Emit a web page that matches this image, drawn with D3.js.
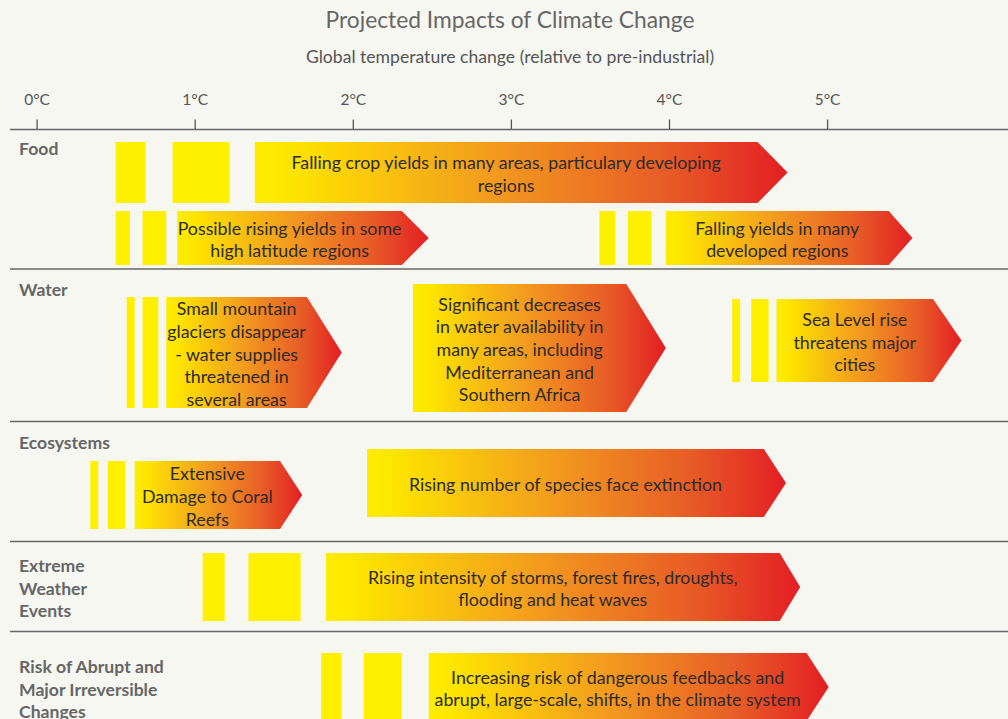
<!DOCTYPE html>
<html>
<head>
<meta charset="utf-8">
<script src="https://cdn.jsdelivr.net/npm/d3@7"></script>
<style>
  body { margin: 0; background: #f7f7f2; }
  svg { display: block; font-family: Lato, "Open Sans", sans-serif; }
</style>
</head>
<body>
<div id="chart"></div>
<script>
// ---- data (temperatures in °C above pre-industrial) ----
var categories = ["Food", "Water", "Ecosystems", "Extreme Weather Events", "Risk of Abrupt and Major Irreversible Changes"];
var categoryLines = [["Food"], ["Water"], ["Ecosystems"], ["Extreme", "Weather", "Events"], ["Risk of Abrupt and", "Major Irreversible", "Changes"]];
var tickValues = [0, 1, 2, 3, 4, 5];
var tickLabels = ["0°C", "1°C", "2°C", "3°C", "4°C", "5°C"];

// each impact lane: its category, the two yellow marker bands and the arrow
var laneCategory = [0, 0, 0, 1, 1, 1, 2, 2, 3, 4];
var laneMarkers = [
  [[0.50, 0.69], [0.86, 1.22]],
  [[0.50, 0.59], [0.67, 0.82]],
  [[3.56, 3.66], [3.74, 3.89]],
  [[0.57, 0.62], [0.67, 0.77]],
  [],
  [[4.40, 4.45], [4.52, 4.63]],
  [[0.34, 0.39], [0.45, 0.56]],
  [],
  [[1.05, 1.19], [1.34, 1.67]],
  [[1.80, 1.93], [2.07, 2.31]]
];
var arrowStart    = [1.38, 0.89, 3.98, 0.82, 2.38, 4.68, 0.62, 2.09, 1.83, 2.48];
var arrowShoulder = [4.56, 2.31, 5.39, 1.71, 3.73, 5.67, 1.54, 4.60, 4.70, 4.87];
var arrowEnd      = [4.75, 2.48, 5.54, 1.93, 3.98, 5.85, 1.68, 4.74, 4.83, 5.01];
var arrowText = [
  ["Falling crop yields in many areas, particulary developing", "regions"],
  ["Possible rising yields in some", "high latitude regions"],
  ["Falling yields in many", "developed regions"],
  ["Small mountain", "glaciers disappear", "- water supplies", "threatened in", "several areas"],
  ["Significant decreases", "in water availability in", "many areas, including", "Mediterranean and", "Southern Africa"],
  ["Sea Level rise", "threatens major", "cities"],
  ["Extensive", "Damage to Coral", "Reefs"],
  ["Rising number of species face extinction"],
  ["Rising intensity of storms, forest fires, droughts,", "flooding and heat waves"],
  ["Increasing risk of dangerous feedbacks and", "abrupt, large-scale, shifts, in the climate system"]
];

// ---- layout ----
var width = 1008, height = 719;
var laneTop    = [142, 211, 211, 297, 284, 299, 461, 449, 553, 653];
var laneBottom = [203, 265, 265, 408, 412, 382, 529, 517, 621, 721];
var labelTop   = [148, 289, 442, 565, 666];
var separators = [269, 421.5, 541.5, 631.5];
var axisY = 129.5;
var lineH = 22.6;

var x = d3.scaleLinear().domain([0, 5]).range([36.6, 827.1]);

var svg = d3.select("#chart").append("svg")
    .attr("width", width)
    .attr("height", height);

svg.append("rect").attr("width", width).attr("height", height).attr("fill", "#f7f7f2");

var grad = svg.append("defs").append("linearGradient")
    .attr("id", "heat")
    .attr("x1", "0").attr("x2", "1").attr("y1", "0").attr("y2", "0");
[[0, "#ffed00"], [0.06, "#fee600"], [0.45, "#f39a1f"], [0.78, "#e75a27"], [1, "#e31e24"]].forEach(function (s) {
  grad.append("stop").attr("offset", s[0]).attr("stop-color", s[1]);
});

// titles
svg.append("text")
    .attr("x", 510).attr("y", 28)
    .attr("text-anchor", "middle")
    .attr("font-size", 22.8)
    .attr("fill", "#666")
    .text("Projected Impacts of Climate Change");

svg.append("text")
    .attr("x", 510).attr("y", 62.5)
    .attr("text-anchor", "middle")
    .attr("font-size", 17.6)
    .attr("fill", "#555")
    .text("Global temperature change (relative to pre-industrial)");

// axis
var xAxis = d3.axisTop(x)
    .tickValues(tickValues)
    .tickFormat(function (d, i) { return tickLabels[i]; })
    .tickSizeInner(10)
    .tickSizeOuter(0)
    .tickPadding(15);

var axisEl = svg.append("g")
    .attr("transform", "translate(0," + axisY + ")")
    .call(xAxis);
axisEl.select(".domain").remove();
axisEl.selectAll(".tick line").attr("stroke", "#555").attr("stroke-width", 1.3);
axisEl.selectAll(".tick text")
    .attr("fill", "#555")
    .attr("font-size", 15.5)
    .attr("font-family", "Lato, sans-serif");

// horizontal rules
svg.selectAll("line.rule")
  .data([axisY].concat(separators))
  .enter().append("line")
    .attr("class", "rule")
    .attr("x1", 10).attr("x2", width)
    .attr("y1", function (d) { return d; })
    .attr("y2", function (d) { return d; })
    .attr("stroke", "#666")
    .attr("stroke-width", 1.5);

// category labels
categoryLines.forEach(function (lines, i) {
  var t = svg.append("text")
      .attr("class", "category")
      .attr("font-size", 17.6)
      .attr("font-weight", "bold")
      .attr("fill", "#666")
      .attr("dominant-baseline", "central");
  lines.forEach(function (ln, j) {
    t.append("tspan").attr("x", 19).attr("y", labelTop[i] + j * 22.5).text(ln);
  });
});

// yellow markers
var markerData = [];
laneMarkers.forEach(function (ms, lane) {
  ms.forEach(function (m) { markerData.push({lane: lane, from: m[0], to: m[1]}); });
});

svg.append("g").selectAll("rect")
  .data(markerData)
  .enter().append("rect")
    .attr("x", function (d) { return x(d.from); })
    .attr("width", function (d) { return x(d.to) - x(d.from); })
    .attr("y", function (d) { return laneTop[d.lane]; })
    .attr("height", function (d) { return laneBottom[d.lane] - laneTop[d.lane]; })
    .attr("fill", "#fff000");

// arrows
var arrows = svg.append("g").selectAll("g")
  .data(arrowText.map(function (t, i) { return i; }))
  .enter().append("g");

arrows.append("path")
    .attr("d", function (i) {
      var y0 = laneTop[i], y1 = laneBottom[i], ym = (y0 + y1) / 2;
      var a = x(arrowStart[i]), s = x(arrowShoulder[i]), e = x(arrowEnd[i]);
      return "M" + a + "," + y0 + "L" + s + "," + y0 + "L" + e + "," + ym +
             "L" + s + "," + y1 + "L" + a + "," + y1 + "Z";
    })
    .attr("fill", "url(#heat)");

arrows.append("text")
    .attr("text-anchor", "middle")
    .attr("dominant-baseline", "central")
    .attr("font-size", 17.8)
    .attr("fill", "#2b2b2b")
    .each(function (i) {
      var lines = arrowText[i];
      var cx = (x(arrowStart[i]) + x(arrowShoulder[i])) / 2;
      var cy = (laneTop[i] + laneBottom[i]) / 2 + 1 - (lines.length - 1) * lineH / 2;
      var t = d3.select(this);
      lines.forEach(function (ln, j) {
        t.append("tspan").attr("x", cx).attr("y", cy + j * lineH).text(ln);
      });
    });
</script>
</body>
</html>
